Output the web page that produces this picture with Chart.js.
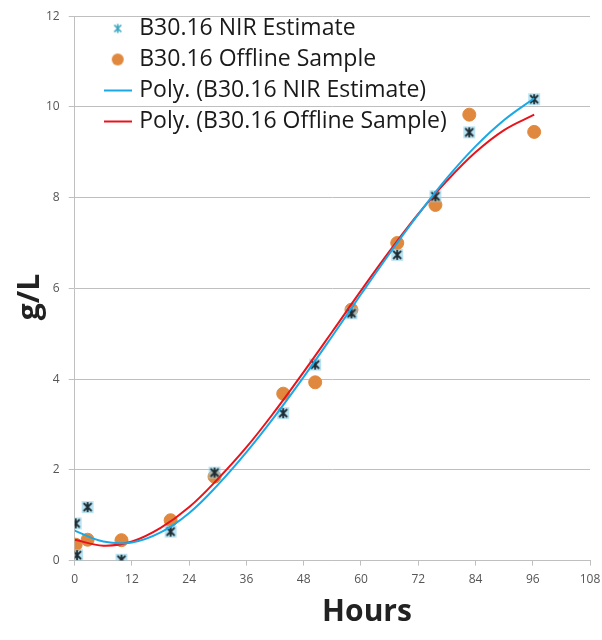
<!DOCTYPE html>
<html>
<head>
<meta charset="utf-8">
<script src="https://cdn.jsdelivr.net/npm/chart.js@4"></script>
<style>
  html, body { margin: 0; padding: 0; background: #fff; overflow: hidden; }
  #wrap { width: 602px; height: 640px; }
  #growthChart { display: block; }
</style>
</head>
<body>
<div id="wrap"><canvas id="growthChart" width="602" height="640"></canvas></div>
<script>
// NIR estimates (hours, g/L)
const nirHours = [0.2, 0.5, 2.7, 9.8, 20.1, 29.3, 43.7, 50.4, 58.0, 67.6, 75.6, 82.7, 96.3];
const nirValues = [0.82, 0.12, 1.18, 0.02, 0.64, 1.94, 3.25, 4.32, 5.45, 6.74, 8.03, 9.44, 10.17];

// offline samples (hours, g/L)
const offlineHours = [0.2, 2.7, 9.8, 20.1, 29.3, 43.7, 50.4, 58.0, 67.6, 75.6, 82.7, 96.3];
const offlineValues = [0.35, 0.46, 0.45, 0.89, 1.85, 3.68, 3.93, 5.53, 7.0, 7.84, 9.83, 9.45];

// polynomial trendlines, sampled every 6 h
const trendHours = [0, 6, 12, 18, 24, 30, 36, 42, 48, 54, 60, 66, 72, 78, 84, 90, 96.3];
const nirTrend = [0.66, 0.42, 0.40, 0.62, 1.05, 1.67, 2.39, 3.19, 4.05, 4.95, 5.87, 6.77, 7.63, 8.43, 9.13, 9.71, 10.19];
const offlineTrend = [0.46, 0.33, 0.42, 0.72, 1.18, 1.80, 2.50, 3.30, 4.16, 5.05, 5.95, 6.82, 7.64, 8.37, 9.00, 9.49, 9.83];

const xTicks = [0, 12, 24, 36, 48, 60, 72, 84, 96, 108];
const yTicks = [0, 2, 4, 6, 8, 10, 12];

const FONT = '"Open Sans", Lato, sans-serif';
const BLUE = '#1aa9e6';
const RED = '#e8141c';
const ORANGE = '#e0893e';

const pairs = (xs, ys) => xs.map((x, i) => ({ x: x, y: ys[i] }));

function makeCanvas(w, h, paint) {
  const c = document.createElement('canvas');
  c.width = w; c.height = h;
  paint(c.getContext('2d'));
  return c;
}

// star marker on a pale blue square
const pointMarker = makeCanvas(14, 14, g => {
  g.fillStyle = 'rgba(140,210,235,0.6)';
  g.fillRect(1, 1, 12, 12);
  g.strokeStyle = '#1c2c34';
  g.lineWidth = 1.8;
  g.beginPath();
  g.moveTo(3, 3); g.lineTo(11, 11);
  g.moveTo(11, 3); g.lineTo(3, 11);
  g.moveTo(7, 2); g.lineTo(7, 12);
  g.stroke();
});

// legend icons
const legendIcons = [
  makeCanvas(12, 12, g => {
    g.strokeStyle = '#3aa6bf';
    g.lineWidth = 1.6;
    g.beginPath();
    g.moveTo(2.5, 2.5); g.lineTo(9.5, 9.5);
    g.moveTo(9.5, 2.5); g.lineTo(2.5, 9.5);
    g.moveTo(6, 1.5); g.lineTo(6, 10.5);
    g.stroke();
  }),
  makeCanvas(14, 14, g => {
    g.fillStyle = ORANGE;
    g.beginPath(); g.arc(7, 7, 6, 0, Math.PI * 2); g.fill();
  }),
  makeCanvas(28, 4, g => { g.fillStyle = BLUE; g.fillRect(0, 1, 28, 2); }),
  makeCanvas(28, 4, g => { g.fillStyle = RED; g.fillRect(0, 1, 28, 2); })
];

// legend sits inside the plot, nudged off the axes; axis titles drawn by hand
const chartDecor = {
  id: 'chartDecor',
  afterLayout(chart) {
    chart.legend.left += 25;
    chart.legend.top += 9;
  },
  afterDraw(chart) {
    const c = chart.ctx;
    c.save();
    c.fillStyle = '#222';
    c.font = 'bold 30px ' + FONT;
    c.textAlign = 'center';
    c.textBaseline = 'middle';
    c.fillText('Hours', 367, 612);
    c.translate(30, 297);
    c.rotate(-Math.PI / 2);
    c.fillText('g/L', 0, 0);
    c.restore();
  }
};

const ctx = document.getElementById('growthChart').getContext('2d');

const growthChart = new Chart(ctx, {
  type: 'scatter',
  data: {
    datasets: [
      {
        label: 'B30.16 NIR Estimate',
        data: pairs(nirHours, nirValues),
        pointStyle: pointMarker,
        order: 1
      },
      {
        label: 'B30.16 Offline Sample',
        data: pairs(offlineHours, offlineValues),
        pointStyle: 'circle',
        pointRadius: 6.5,
        backgroundColor: ORANGE,
        borderColor: ORANGE,
        order: 2
      },
      {
        type: 'line',
        label: 'Poly. (B30.16 NIR Estimate)',
        data: pairs(trendHours, nirTrend),
        borderColor: BLUE,
        borderWidth: 2,
        pointRadius: 0,
        tension: 0.4,
        fill: false,
        order: 0
      },
      {
        type: 'line',
        label: 'Poly. (B30.16 Offline Sample)',
        data: pairs(trendHours, offlineTrend),
        borderColor: RED,
        borderWidth: 2,
        pointRadius: 0,
        tension: 0.4,
        fill: false,
        order: 0
      }
    ]
  },
  options: {
    responsive: false,
    animation: false,
    layout: { autoPadding: false, padding: { left: 37, right: 12, top: 13, bottom: 46 } },
    plugins: {
      tooltip: { enabled: false },
      legend: {
        position: 'chartArea',
        align: 'start',
        labels: {
          usePointStyle: true,
          pointStyleWidth: 20,
          boxHeight: 10,
          padding: 8,
          color: '#1a1a1a',
          font: { family: FONT, size: 23 },
          generateLabels: (chart) => {
            const items = Chart.defaults.plugins.legend.labels.generateLabels(chart);
            items.sort((a, b) => a.datasetIndex - b.datasetIndex);
            items.forEach(it => { it.pointStyle = legendIcons[it.datasetIndex]; });
            return items;
          }
        }
      }
    },
    scales: {
      x: {
        type: 'linear',
        min: 0,
        max: 108,
        afterBuildTicks: (axis) => { axis.ticks = xTicks.map(v => ({ value: v })); },
        // let the last label hang past the plot instead of shrinking it
        afterFit: (axis) => { axis.paddingRight = 0; },
        border: { color: '#bfbfbf', width: 1 },
        grid: { drawOnChartArea: false, color: '#bfbfbf', tickLength: 5 },
        ticks: { color: '#555', font: { family: FONT, size: 12 }, padding: 7, maxRotation: 0 }
      },
      y: {
        min: 0,
        max: 12,
        afterBuildTicks: (axis) => { axis.ticks = yTicks.map(v => ({ value: v })); },
        border: { color: '#bfbfbf', width: 1 },
        grid: { color: '#bfbfbf', tickLength: 6 },
        ticks: { color: '#555', font: { family: FONT, size: 12 }, padding: 9 }
      }
    }
  },
  plugins: [chartDecor]
});
</script>
</body>
</html>
